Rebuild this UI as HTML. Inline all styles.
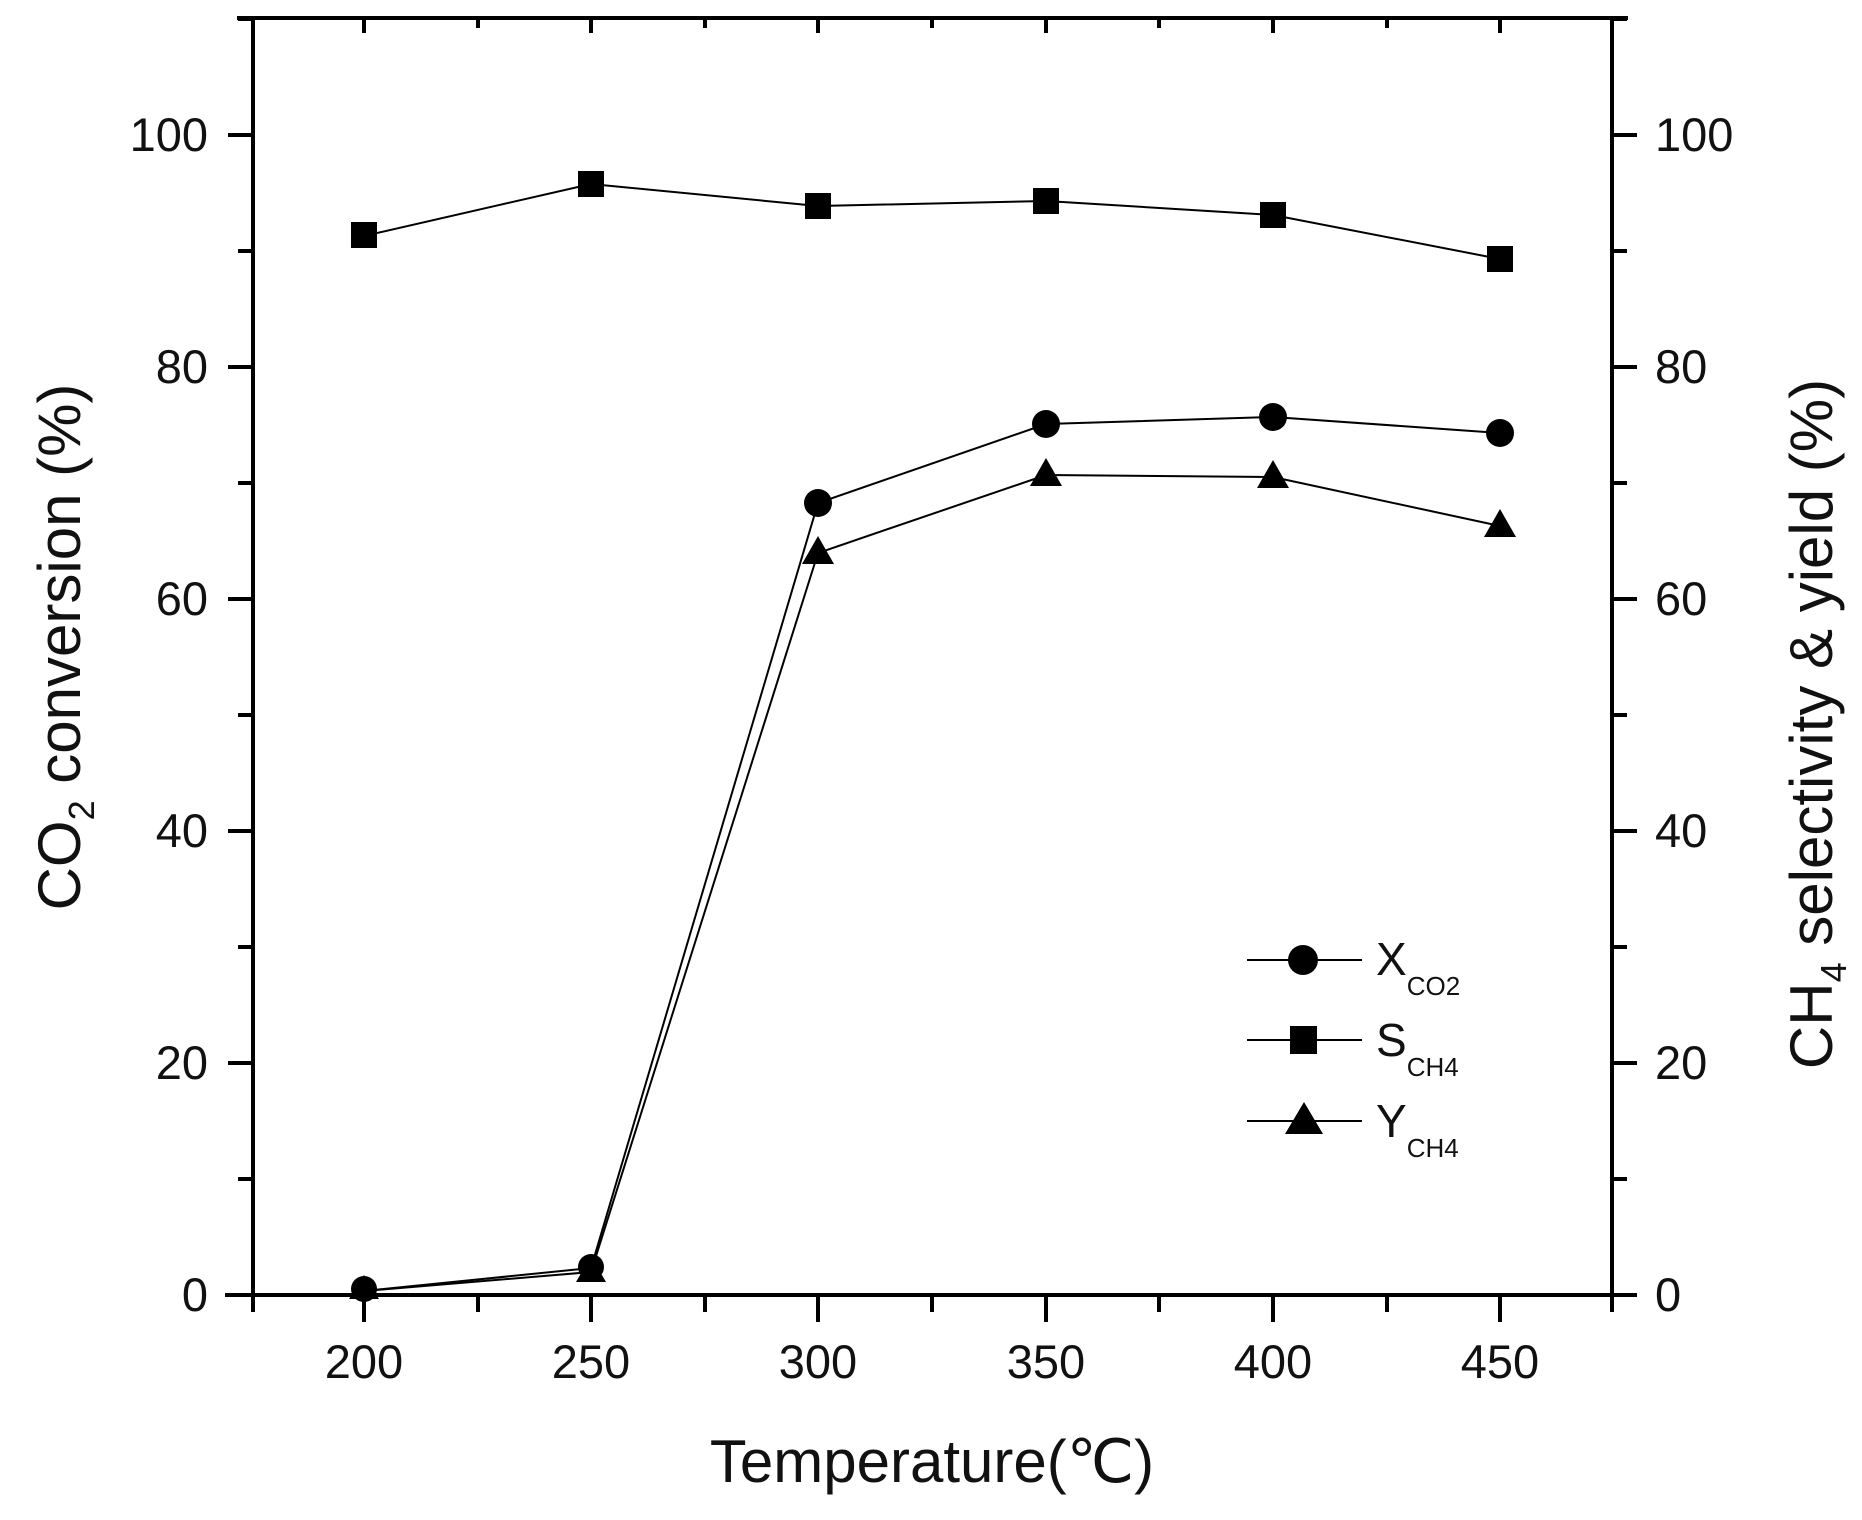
<!DOCTYPE html>
<html><head><meta charset="utf-8"><style>
html,body{margin:0;padding:0;background:#fff;}
svg{display:block;font-family:"Liberation Sans",sans-serif;}
</style></head><body>
<svg width="1862" height="1520" viewBox="0 0 1862 1520" xmlns="http://www.w3.org/2000/svg">
<g stroke="#000" stroke-width="4" fill="none">
<line x1="253" y1="16" x2="253" y2="1312"/>
<line x1="1612" y1="16" x2="1612" y2="1312"/>
<line x1="237" y1="18" x2="1628" y2="18"/>
<line x1="225" y1="1295" x2="1628" y2="1295"/>
<path d="M253 1295h-25M253 1179h-15M253 1063h-25M253 947h-15M253 831h-25M253 715h-15M253 599h-25M253 483h-15M253 367h-25M253 251h-15M253 135h-25M253 19h-15"/>
<path d="M1612 1295h25M1612 1179h15M1612 1063h25M1612 947h15M1612 831h25M1612 715h15M1612 599h25M1612 483h15M1612 367h25M1612 251h15M1612 135h25M1612 19h15"/>
<path d="M364 1295v27M478 1295v17M591 1295v27M705 1295v17M818 1295v27M932 1295v17M1046 1295v27M1159 1295v17M1273 1295v27M1387 1295v17M1500 1295v27"/>
<path d="M364 18v15M478 18v10M591 18v15M705 18v10M818 18v15M932 18v10M1046 18v15M1159 18v10M1273 18v15M1387 18v10M1500 18v15"/>
</g>
<g font-size="47" fill="#111" text-anchor="end">
<text x="208" y="1311">0</text><text x="208" y="1079">20</text><text x="208" y="847">40</text><text x="208" y="615">60</text><text x="208" y="383">80</text><text x="208" y="151">100</text>
</g>
<g font-size="47" fill="#111" text-anchor="start">
<text x="1655" y="1311">0</text><text x="1655" y="1079">20</text><text x="1655" y="847">40</text><text x="1655" y="615">60</text><text x="1655" y="383">80</text><text x="1655" y="151">100</text>
</g>
<g font-size="47" fill="#111" text-anchor="middle">
<text x="364" y="1378">200</text><text x="591" y="1378">250</text><text x="818" y="1378">300</text><text x="1046" y="1378">350</text><text x="1273" y="1378">400</text><text x="1500" y="1378">450</text>
</g>
<text x="932" y="1482" font-size="60" text-anchor="middle" fill="#111">Temperature(℃)</text>
<text transform="translate(80,647) rotate(-90)" font-size="60" text-anchor="middle" fill="#111">CO<tspan font-size="36" dy="14">2</tspan><tspan dy="-14"> conversion (%)</tspan></text>
<text transform="translate(1832,724) rotate(-90)" font-size="60" text-anchor="middle" fill="#111">CH<tspan font-size="36" dy="14">4</tspan><tspan dy="-14"> selectivity &amp; yield (%)</tspan></text>
<g stroke="#000" stroke-width="2" fill="none">
<polyline points="364,236 591,184 818,206 1046,201 1273,215 1500,259"/>
<polyline points="364,1291 591,1268 818,503 1046,424 1273,417 1500,433"/>
<polyline points="364,1291 591,1272 818,553 1046,475 1273,477 1500,526"/>
</g>
<g fill="#000">
<rect x="351" y="222" width="26" height="26"/><rect x="578" y="171" width="26" height="26"/><rect x="805" y="193" width="26" height="26"/><rect x="1033" y="188" width="26" height="26"/><rect x="1260" y="202" width="26" height="26"/><rect x="1487" y="246" width="26" height="26"/>
<circle cx="364" cy="1289" r="13"/><circle cx="591" cy="1267" r="13"/><circle cx="818" cy="503" r="14"/><circle cx="1046" cy="424" r="14"/><circle cx="1273" cy="417" r="14"/><circle cx="1500" cy="433" r="14"/>
<path d="M364 1275l15 24h-30z"/><path d="M591 1256l15 26h-30z"/><path d="M818 536l16 28h-32z"/><path d="M1046 458l16 28h-32z"/><path d="M1273 460l16 28h-32z"/><path d="M1500 509l16 28h-32z"/>
</g>
<g stroke="#000" stroke-width="2">
<line x1="1247" y1="960" x2="1362" y2="960"/>
<line x1="1247" y1="1040" x2="1362" y2="1040"/>
<line x1="1247" y1="1121" x2="1362" y2="1121"/>
</g>
<g fill="#000">
<circle cx="1303" cy="960" r="15"/>
<rect x="1290" y="1026" width="27" height="28"/>
<path d="M1304 1102l19 32h-38z"/>
</g>
<g fill="#111" font-size="46">
<text x="1376" y="975">X<tspan font-size="26" dy="20">CO2</tspan></text>
<text x="1376" y="1056">S<tspan font-size="26" dy="20">CH4</tspan></text>
<text x="1376" y="1137">Y<tspan font-size="26" dy="20">CH4</tspan></text>
</g>
</svg>
</body></html>
